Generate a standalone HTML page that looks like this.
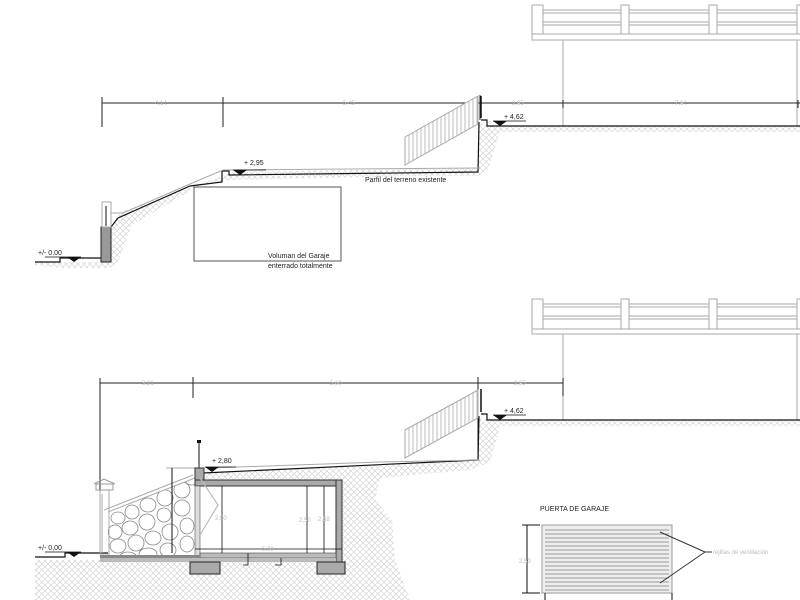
<!DOCTYPE html>
<html><head><meta charset="utf-8"><style>
html,body{margin:0;padding:0;background:#fff;width:800px;height:600px;overflow:hidden}
svg{display:block;font-family:"Liberation Sans",sans-serif}
</style></head><body>
<svg width="800" height="600" viewBox="0 0 800 600" xmlns="http://www.w3.org/2000/svg">
<defs>
<pattern id="h" width="6" height="6" patternUnits="userSpaceOnUse">
<path d="M0 0L6 6M6 0L0 6" stroke="#d4d4d4" stroke-width="0.7"/>
</pattern>
<pattern id="v" width="4" height="10" patternUnits="userSpaceOnUse">
<rect width="4" height="10" fill="#fff"/><line x1="1" y1="0" x2="1" y2="10" stroke="#aaa" stroke-width="0.8"/>
</pattern>
<clipPath id="stone"><polygon points="108,512 195,478 195,555 108,555"/></clipPath>
</defs>

<g fill="none" stroke="#aaa" stroke-width="1">
<rect x="532" y="5" width="11" height="29"/>
<rect x="621" y="5" width="8" height="29"/>
<rect x="709" y="5" width="8" height="29"/>
<rect x="797" y="5" width="8" height="29"/>
<path d="M543 10H621M543 13H621M543 22H621M543 25H621M629 10H709M629 13H709M629 22H709M629 25H709M717 10H797M717 13H797M717 22H797M717 25H797"/>
<rect x="532" y="34" width="270" height="6"/>
<path d="M563 40V126"/>
<path d="M797 40V126"/>
</g>
<polygon points="487,126 800,126 800,132 500,132 488,170 478,176 410,176 230,180 200,185 132,225 118,262 110,268 60,268 35,265 35,262 111,262 111,227 120,212 195,186 233,172 478,168 479,122" fill="url(#h)"/>
<g stroke="#222" stroke-width="1">
<path d="M102 103H800"/>
<path d="M102 97V127M223 97V127M480 95V120M563 100V108M798 100V108"/>
</g>
<g fill="#bbb" font-size="6">
<text x="155" y="105">4,14</text><text x="343" y="105">5,45</text><text x="512" y="105">2,95</text><text x="675" y="105">7,94</text>
</g>
<g fill="none" stroke="#111" stroke-width="1.2">
<path d="M35 262H60V258H111"/>
<path d="M111 227L118 218L190 186L222 182L222 171L229 171L229 175L478 172L479 122"/>
<path d="M481 120H487V126H800"/>
</g>
<path d="M111 213L123 213L190 184L223 170L480 168" fill="none" stroke="#aaa" stroke-width="1"/>
<polygon points="405,137 478,96 478,124 405,165" fill="url(#v)" stroke="#aaa" stroke-width="1"/>
<path d="M481 96V118" stroke="#111" stroke-width="1.5"/>
<rect x="101" y="227" width="10" height="35" fill="#999" stroke="#222"/>
<rect x="102" y="202" width="9" height="25" fill="#fff" stroke="#aaa"/>
<path d="M106 206V226" stroke="#111"/>
<rect x="194" y="187" width="147" height="74" fill="none" stroke="#555" stroke-width="1"/>
<g font-size="7" fill="#222">
<text x="268" y="258">Voluman del Garaje</text>
<text x="268" y="268">enterrado totalmente</text>
<text x="365" y="182">Parfil del terreno existente</text>
<text x="244" y="165">+ 2,95</text>
<text x="504" y="119">+ 4,62</text>
<text x="38" y="255">+/- 0.00</text>
</g>
<g fill="#111">
<polygon points="233,170 247,170 240,175"/>
<polygon points="493,121 507,121 500,126"/>
<polygon points="67,257 81,257 74,262"/>
</g>
<path d="M233 170H266M493 121H526M45 257H81" stroke="#111" stroke-width="0.8"/>

<g fill="none" stroke="#aaa" stroke-width="1">
<rect x="532" y="299" width="11" height="30"/>
<rect x="621" y="299" width="8" height="30"/>
<rect x="709" y="299" width="8" height="30"/>
<rect x="797" y="299" width="8" height="30"/>
<path d="M543 304H621M543 307H621M543 316H621M543 319H621M629 304H709M629 307H709M629 316H709M629 319H709M717 304H797M717 307H797M717 316H797M717 319H797"/>
<rect x="532" y="329" width="270" height="5"/>
<path d="M563 334V420"/>
<path d="M797 334V420"/>
</g>
<polygon points="487,420 800,420 800,426 500,426" fill="url(#h)"/>
<polygon points="203,473 478,460 479,416 487,420 500,426 490,462 470,470 380,478 375,500 392,520 395,560 410,600 35,600 35,560 203,560" fill="url(#h)"/>
<rect x="200" y="486" width="136" height="67" fill="#fff"/>
<g stroke="#222" stroke-width="1">
<path d="M100 383H563"/>
<path d="M100 378V555M193 377V398M478 377V460M563 378V396"/>
</g>
<g fill="#bbb" font-size="6">
<text x="142" y="385">3,21</text><text x="330" y="385">5,60</text><text x="514" y="385">2,95</text>
</g>
<g fill="none" stroke="#111" stroke-width="1.2">
<path d="M35 557H65V553H110"/>
<path d="M203 473L478 460L479 416"/>
<path d="M481 414H487V420H800"/>
</g>
<path d="M166 468H203M210 468L380 462L480 460" fill="none" stroke="#aaa" stroke-width="1"/>
<polygon points="405,430 478,390 478,418 405,458" fill="url(#v)" stroke="#aaa" stroke-width="1"/>
<path d="M481 389V412" stroke="#111" stroke-width="1.5"/>
<polygon points="108,512 195,478 195,555 108,555" fill="#fff"/>
<g clip-path="url(#stone)" fill="#fff" stroke="#888" stroke-width="0.8">
<ellipse cx="118" cy="518" rx="7" ry="6"/><ellipse cx="132" cy="512" rx="7" ry="7"/><ellipse cx="148" cy="505" rx="8" ry="7"/><ellipse cx="165" cy="498" rx="8" ry="8"/><ellipse cx="182" cy="490" rx="8" ry="8"/>
<ellipse cx="115" cy="532" rx="7" ry="7"/><ellipse cx="130" cy="528" rx="8" ry="7"/><ellipse cx="147" cy="522" rx="8" ry="8"/><ellipse cx="164" cy="515" rx="7" ry="7"/><ellipse cx="182" cy="508" rx="8" ry="8"/>
<ellipse cx="118" cy="546" rx="8" ry="7"/><ellipse cx="136" cy="543" rx="8" ry="8"/><ellipse cx="153" cy="538" rx="8" ry="7"/><ellipse cx="170" cy="532" rx="8" ry="8"/><ellipse cx="187" cy="526" rx="7" ry="8"/>
<ellipse cx="128" cy="558" rx="9" ry="6"/><ellipse cx="148" cy="554" rx="9" ry="6"/><ellipse cx="168" cy="550" rx="8" ry="7"/><ellipse cx="187" cy="544" rx="7" ry="8"/><ellipse cx="192" cy="478" rx="8" ry="7"/>
</g>
<path d="M108 512L195 478" stroke="#aaa" fill="none"/>
<path d="M104 510L193 475" stroke="#aaa" fill="none"/>
<path d="M172 468V553" stroke="#111"/>
<rect x="100" y="490" width="9" height="65" fill="none" stroke="#aaa"/>
<rect x="96" y="484" width="17" height="6" fill="none" stroke="#999"/>
<path d="M94 484L104 479L115 484" fill="none" stroke="#999"/>
<path d="M102 494V553" stroke="#aaa"/>
<path d="M199 443V468" stroke="#111"/>
<rect x="197" y="440" width="4" height="3" fill="#111"/>
<rect x="195" y="468" width="9" height="12" fill="#aaa" stroke="#333"/>
<rect x="195" y="480" width="147" height="6" fill="#aaa" stroke="#333"/>
<rect x="336" y="480" width="6" height="82" fill="#aaa" stroke="#333"/>
<rect x="195" y="486" width="5" height="74" fill="#ddd" stroke="#555" stroke-width="0.6"/>
<rect x="200" y="553" width="136" height="5" fill="#bbb" stroke="#444" stroke-width="0.6"/>
<rect x="100" y="555" width="100" height="3" fill="#888"/>
<rect x="100" y="558" width="236" height="4" fill="#bbb"/>
<rect x="190" y="562" width="30" height="12" fill="#aaa" stroke="#222"/>
<rect x="317" y="562" width="28" height="12" fill="#aaa" stroke="#222"/>
<path d="M200 478L218 505L200 535" fill="none" stroke="#bbb" stroke-width="1.2"/>
<g stroke="#111" stroke-width="0.8" fill="none">
<path d="M222 486V553M307 486V553M324 486V553M195 549H342M248 553V565H243M281 558V565H275"/>
</g>
<g fill="#bbb" font-size="6">
<text x="215" y="520">2,50</text><text x="299" y="522">2,50</text><text x="318" y="521">2,58</text><text x="262" y="551">5,00</text>
</g>
<g font-size="7" fill="#222">
<text x="212" y="463">+ 2,80</text>
<text x="504" y="413">+ 4,62</text>
<text x="38" y="550">+/- 0,00</text>
</g>
<g fill="#111">
<polygon points="205,467 219,467 212,472"/>
<polygon points="493,415 507,415 500,420"/>
<polygon points="67,552 81,552 74,557"/>
</g>
<path d="M205 467H236M493 415H526M45 552H81" stroke="#111" stroke-width="0.8"/>

<text x="540" y="511" font-size="7" fill="#222">PUERTA DE GARAJE</text>
<path d="M527 525V593M522 525H540M522 593H540" stroke="#111"/>
<text x="519" y="563" font-size="6" fill="#bbb">2,50</text>
<rect x="542" y="525" width="130" height="68" fill="#eee" stroke="#999"/>
<g stroke="#999" stroke-width="1.1">
<path d="M545 530H669M545 534H669M545 538H669M545 542H669M545 546H669M545 550H669M545 554H669M545 558H669M545 562H669M545 566H669M545 570H669M545 574H669M545 578H669M545 582H669M545 586H669M545 590H669"/>
</g>
<path d="M545 593V600M672 593V600" stroke="#111"/>
<path d="M660 532L705 552L660 583M705 552H712" fill="none" stroke="#333"/>
<text x="713" y="554" font-size="6" fill="#bbb">rejillas de ventilación</text>
</svg>
</body></html>
